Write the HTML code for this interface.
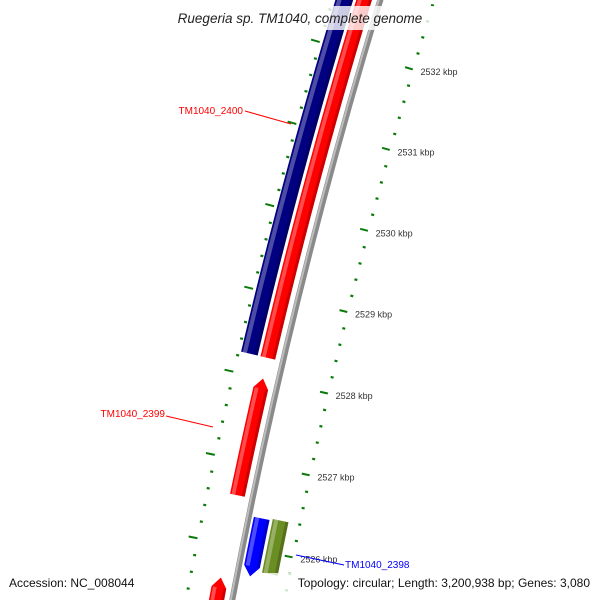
<!DOCTYPE html>
<html><head><meta charset="utf-8"><style>
html,body{margin:0;padding:0;background:#fff;width:600px;height:600px;overflow:hidden;position:relative;}
svg{display:block;position:absolute;left:0;top:0;font-family:"Liberation Sans","DejaVu Sans",sans-serif;}
</style></head><body>
<svg id="map" width="600" height="600" viewBox="0 0 600 600" xmlns="http://www.w3.org/2000/svg">
<rect width="600" height="600" fill="#fff"/>
<g id="ticks"></g>
<g id="feats"></g>
<g id="labels"></g>
</svg>
<script>
const tickStart = 2524.0;
const tickEnd = 2534.0;
const labelKbp = [2526, 2527, 2528, 2529, 2530, 2531, 2532];
const featNames = ["TM1040_2400", "TM1040_2400b", "TM1040_2399", "TM1040_2398", "TM1040_2398b", "TM1040_2397"];
const featStart = [2528.25, 2528.25, 2526.59, 2525.68, 2525.75, 2524.5];
const featEnd = [2534.0, 2534.0, 2528.0, 2526.38, 2526.40, 2525.6];
const featTrack = ["fwd2", "fwd1", "fwd1", "rev1", "rev2", "fwd1"];
const featColor = ["#000080", "#ff0000", "#ff0000", "#0000ff", "#6b8e23", "#ff0000"];
const featArrow = ["none", "none", "up", "down", "none", "up"];

const CX = 5876, CY = 1674;
const TH0 = 191.31 * Math.PI / 180, DTH = 0.843 * Math.PI / 180;
const tracks = {fwd1: [5753, 5768], fwd2: [5771, 5788], rev1: [5724, 5740], rev2: [5705, 5721]};
const NS = "http://www.w3.org/2000/svg";
function th(k) { return TH0 + (k - 2526) * DTH; }
function P(r, k) { const t = th(k); return [CX + r * Math.cos(t), CY + r * Math.sin(t)]; }
function mk(tag, attrs, parent) { const e = document.createElementNS(NS, tag); for (const a in attrs) e.setAttribute(a, attrs[a]); parent.appendChild(e); return e; }
function band(r1, r2, k1, k2) {
  const pts = []; const n = 20;
  for (let i = 0; i <= n; i++) pts.push(P(r2, k1 + (k2 - k1) * i / n));
  for (let i = n; i >= 0; i--) pts.push(P(r1, k1 + (k2 - k1) * i / n));
  return pts.map(p => p[0].toFixed(2) + "," + p[1].toFixed(2)).join(" ");
}
const tg = document.getElementById("ticks"), fg = document.getElementById("feats"), lg = document.getElementById("labels");

const bb = mk("polygon", {points: band(5742, 5748, 2523, 2535), fill: "#8a8a8a"}, fg);


mk("polygon", {points: band(5745.5, 5747.5, 2523, 2535), fill: "#bdbdbd"}, fg);

for (let i = 0; i <= Math.round((tickEnd - tickStart) / 0.2); i++) {
  const k = tickStart + i * 0.2; const major = Math.abs(k - Math.round(k)) < 1e-6;
  const rings = major ? [[5791, 5800], [5694, 5702]] : [[5789, 5792], [5692, 5695]];
  rings.forEach((rr, j) => {
    const a = P(rr[0], k), b = P(rr[1], k);
    const l = mk("line", {x1: a[0], y1: a[1], x2: b[0], y2: b[1], stroke: "#0a7a0a", "stroke-width": major ? 2 : 2.2}, tg);
    
    
  });
}
labelKbp.forEach(k => {
  const p = P(5686, k);
  const t = mk("text", {x: p[0], y: p[1] + 3.5, "font-size": 9, fill: "#333"}, lg);
  t.textContent = k + " kbp";
  
  
});

featNames.forEach((nm, i) => {
  const [r1, r2] = tracks[featTrack[i]]; let k1 = featStart[i], k2 = featEnd[i];
  const g = mk("g", {}, fg);
  
  
  const al = 0.12; let pts;
  if (featArrow[i] === "up") {
    const b = k2 - al; const tip = P((r1 + r2) / 2, k2);
    pts = band(r1, r2, k1, b).split(" "); pts.splice(21, 0, tip[0].toFixed(2) + "," + tip[1].toFixed(2)); pts = pts.join(" ");
  } else if (featArrow[i] === "down") {
    const b = k1 + al; const tip = P((r1 + r2) / 2, k1);
    pts = band(r1, r2, b, k2) + " " + tip[0].toFixed(2) + "," + tip[1].toFixed(2);
  } else pts = band(r1, r2, k1, k2);
  mk("polygon", {points: pts, fill: featColor[i]}, g);
  const w = r2 - r1;
  const a1 = k1 + (featArrow[i] == "down" ? al : 0), a2 = k2 - (featArrow[i] == "up" ? al : 0);
  mk("polygon", {points: band(r2 - w * 0.35, r2 - w * 0.1, a1, a2), fill: "#fff", opacity: 0.3}, g);
  mk("polygon", {points: band(r1, r1 + w * 0.2, a1, a2), fill: "#000", opacity: 0.2}, g);
});
</script>
<svg width="600" height="600" xmlns="http://www.w3.org/2000/svg" font-family="DejaVu Sans, Liberation Sans, sans-serif">
<rect x="155" y="6" width="290" height="24" fill="#fff" opacity="0.8"/>
<text x="300" y="23" text-anchor="middle" font-size="13.5" font-style="italic" fill="#222">Ruegeria sp. TM1040, complete genome</text>
<line x1="245" y1="111" x2="291" y2="124" stroke="#ff0000" stroke-width="1"/>
<text x="243" y="114" text-anchor="end" font-size="10" fill="#ff0000">TM1040_2400</text>
<line x1="166" y1="416" x2="213" y2="427" stroke="#ff0000" stroke-width="1"/>
<text x="165" y="417" text-anchor="end" font-size="10" fill="#ff0000">TM1040_2399</text>
<line x1="296" y1="555" x2="344" y2="565" stroke="#0000ff" stroke-width="1"/>
<text x="345" y="568" font-size="10" fill="#0000ff">TM1040_2398</text>
<rect x="6" y="573" width="142" height="20" fill="#fff" opacity="0.8"/>
<text x="9" y="587" font-size="12" fill="#111">Accession: NC_008044</text>
<rect x="257" y="573" width="337" height="20" fill="#fff" opacity="0.8"/>
<text x="590" y="587" text-anchor="end" font-size="12" fill="#111">Topology: circular; Length: 3,200,938 bp; Genes: 3,080</text>
</svg>
</body></html>
